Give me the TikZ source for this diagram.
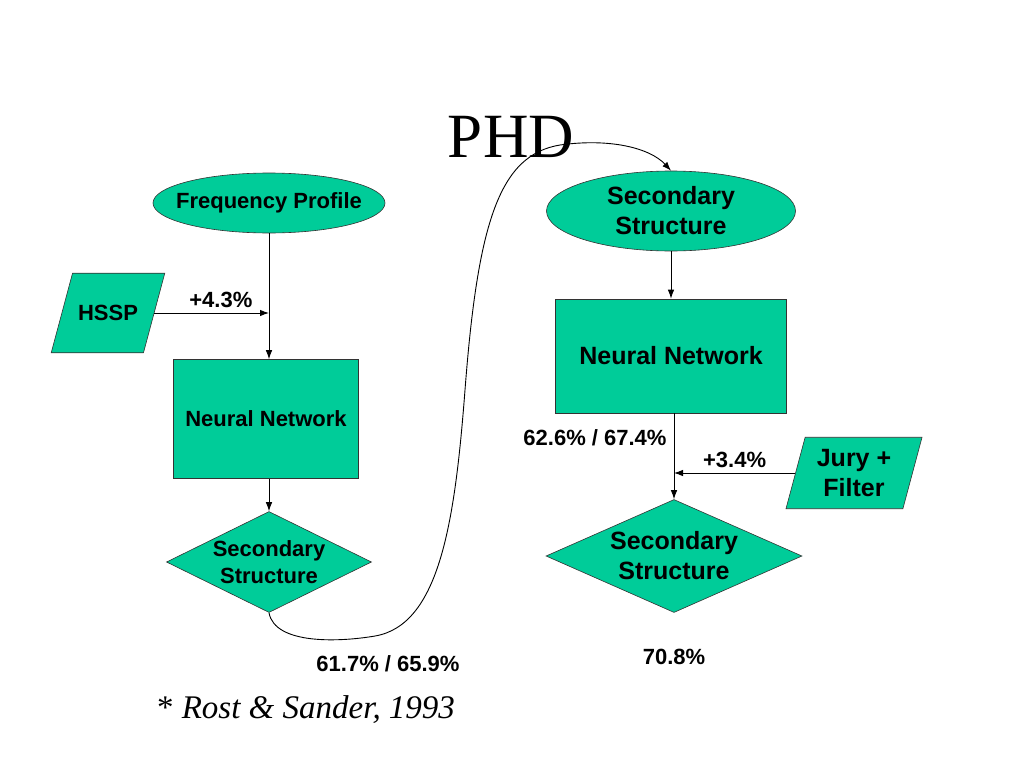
\documentclass[tikz,border=0pt]{standalone}
\usepackage{fontspec}
\setmainfont{Liberation Serif}
\newfontfamily\arialfont{Liberation Sans}
\usetikzlibrary{arrows.meta,shapes.geometric}
\definecolor{phdgreen}{RGB}{0,204,153}

\begin{document}
\begin{tikzpicture}[x=1pt, y=-1pt,
	every node/.style={font=\arialfont\bfseries\fontsize{22}{27}\selectfont, align=center},
	big/.style={font=\arialfont\bfseries\fontsize{25}{30}\selectfont},
	box/.style={draw=black!80, fill=phdgreen, line width=0.6pt, inner sep=0pt},
	oval/.style={box, ellipse},
	rect/.style={box, rectangle},
	dia/.style={box, diamond, aspect=2},
	para/.style={box, trapezium, trapezium left angle=75, trapezium right angle=105},
	link/.style={->, line width=0.9pt},
	>={Latex[length=9pt, width=6.5pt]}]
	\useasboundingbox (0,0) rectangle (1024,768);
	% left column
	\node[oval, inner xsep=-14pt, minimum width=232, minimum height=60] (fp) at (269,203) {Frequency Profile};
	\node[para, inner xsep=5.5pt, inner ysep=32pt] (hssp) at (108,313) {HSSP};
	\node[rect, minimum width=185, minimum height=119] (nn1) at (266,419) {Neural Network};
	\node[dia, minimum width=205, minimum height=101] (ds1) at (269,562) {Secondary\\Structure};
	\coordinate (j1) at (fp.south |- hssp.east);
	\draw[link] (fp.south) -- (fp.south |- nn1.north);
	\draw[link] (hssp.east) -- (j1) node[pos=0.58, above=1pt] {+4.3\%};
	\draw[link] (ds1.north |- nn1.south) -- (ds1.north);
	% right column
	\node[oval, big, minimum width=249, minimum height=80] (rs) at (671,211) {Secondary\\Structure};
	\node[rect, big, minimum width=231, minimum height=114] (nn2) at (671,356) {Neural Network};
	\node[dia, big, minimum width=256, minimum height=113] (ds2) at (674,556) {Secondary\\Structure};
	\node[para, big, inner xsep=11.7pt, inner ysep=12pt] (jury) at (854,473) {Jury +\\Filter};
	\coordinate (j2) at (ds2.north |- jury.west);
	\draw[link] (rs.south) -- (rs.south |- nn2.north);
	\draw[link] (ds2.north |- nn2.south) -- (ds2.north);
	\draw[link] (jury.west) -- (j2) node[pos=0.5, above=1pt] {+3.4\%};
	% link between the two networks
	\draw[link] (ds1.south) .. controls (275,645) and (340,642) .. (375,636)
		.. controls (440,625) and (455,520) .. (465,390)
		.. controls (478,220) and (500,155) .. (560,145)
		.. controls (610,138) and (650,148) .. (rs.north);
	% scores and title
	\node (acc1) at (388,664) {61.7\% / 65.9\%};
	\node (acc2) at (595,438) {62.6\% / 67.4\%};
	\node (acc3) at (674,657) {70.8\%};
	\node[font=\fontsize{63}{63}\selectfont] (title) at (511,137) {PHD};
	\node[font=\fontsize{33}{36}\selectfont] (cite) at (306,710) {* \textit{Rost \& Sander, 1993}};
\end{tikzpicture}
\end{document}
